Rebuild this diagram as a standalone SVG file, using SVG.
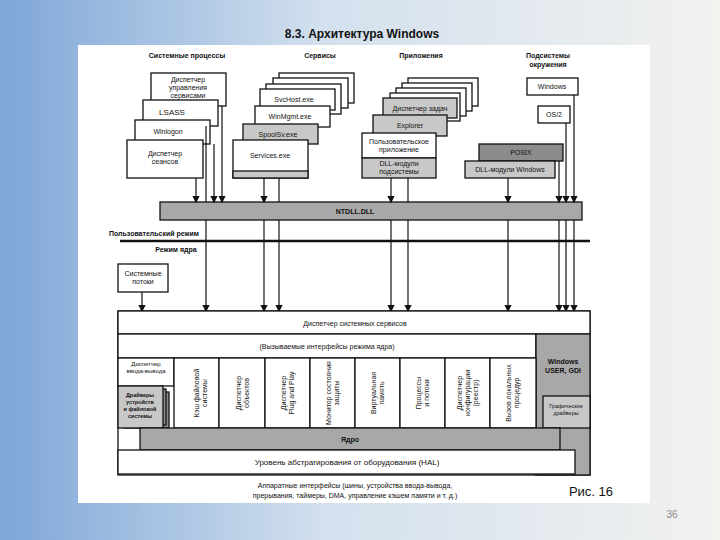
<svg xmlns="http://www.w3.org/2000/svg" width="720" height="540" viewBox="0 0 720 540">
<defs>
<linearGradient id="bg" x1="0" x2="1" y1="0" y2="0"><stop offset="0" stop-color="#7ea6d8"/><stop offset="0.45" stop-color="#d3e0ee"/><stop offset="1" stop-color="#f2f2ef"/></linearGradient>
<marker id="ar" markerWidth="6" markerHeight="6" refX="5" refY="3" orient="auto"><path d="M0,0L6,3L0,6z" fill="#111"/></marker>
<style>
.b{fill:#fff;stroke:#111;stroke-width:1.3}
.g{fill:#c8c8c8;stroke:#111;stroke-width:1.3}
.d{fill:#8c8c8c;stroke:#111;stroke-width:1.3}
.m{fill:#a8a8a8;stroke:#111;stroke-width:1.3}
text{font-family:"Liberation Sans",Arial,sans-serif;fill:#111;text-anchor:middle;font-size:7px}
.h{font-weight:bold;font-size:7px}
.c line{stroke:#111;stroke-width:1.2}
.c .a{marker-end:url(#ar)}
</style>
</defs>
<rect width="720" height="540" fill="url(#bg)"/>
<rect x="78" y="45" width="572" height="458" fill="#fff"/>
<text x="362" y="38" style="font-size:12px;font-weight:bold">8.3. Архитектура Windows</text>
<text class="h" x="187" y="58">Системные процессы</text>
<text class="h" x="320" y="58">Сервисы</text>
<text class="h" x="421" y="58">Приложения</text>
<text class="h" x="548" y="58">Подсистемы</text>
<text class="h" x="548" y="67">окружения</text>

<g id="sysproc">
<rect class="b" x="151" y="73" width="75" height="33"/>
<text x="188" y="82">Диспетчер</text><text x="188" y="90">управления</text><text x="188" y="98">сервисами</text>
<rect class="b" x="143" y="100" width="75" height="26"/><text x="172" y="115" style="font-size:8px">LSASS</text>
<rect class="b" x="135" y="120" width="75" height="24"/><text x="168" y="134">Winlogon</text>
<rect class="b" x="127" y="140" width="76" height="38"/><text x="165" y="156">Диспетчер</text><text x="165" y="164">сеансов</text>
</g>
<g id="services">
<rect class="b" x="279" y="73" width="75" height="30"/>
<rect class="b" x="273" y="78" width="75" height="30"/>
<rect class="b" x="266" y="84" width="75" height="30"/>
<rect class="b" x="260" y="89" width="75" height="21"/><text x="294" y="102">SvcHost.exe</text>
<rect class="b" x="255" y="106" width="75" height="21"/><text x="290" y="119">WinMgmt.exe</text>
<rect class="g" x="243" y="124" width="75" height="20"/><text x="278" y="137">SpoolSv.exe</text>
<rect class="b" x="233" y="140" width="75" height="38"/><rect class="g" x="233" y="171" width="75" height="7"/><text x="270" y="158">Services.exe</text>
</g>
<g id="apps">
<rect class="b" x="408" y="78" width="70" height="28"/>
<rect class="b" x="402" y="83" width="70" height="28"/>
<rect class="b" x="396" y="88" width="70" height="28"/>
<rect class="b" x="390" y="93" width="70" height="28"/>
<rect class="g" x="383" y="98" width="74" height="20"/><text x="420" y="111">Диспетчер задач</text>
<rect class="g" x="373" y="115" width="74" height="21"/><text x="410" y="128">Explorer</text>
<rect class="b" x="362" y="133" width="74" height="25"/><text x="399" y="144">Пользовательское</text><text x="399" y="152">приложение</text>
<rect class="g" x="362" y="158" width="74" height="20"/><text x="399" y="166">DLL-модули</text><text x="399" y="174">подсистемы</text>
</g>
<g id="env">
<rect class="b" x="527" y="78" width="51" height="17"/><text x="552" y="89">Windows</text>
<rect class="b" x="538" y="106" width="32" height="17"/><text x="554" y="117">OS/2</text>
<rect class="d" x="479" y="144" width="84" height="17"/><text x="521" y="155">POSIX</text>
<rect class="g" x="465" y="161" width="90" height="17"/><text x="510" y="172">DLL-модули Windows</text>
</g>
<g id="ntdll"><rect class="m" x="160" y="202" width="422" height="18"/><text class="h" x="355" y="214">NTDLL.DLL</text></g>
<g id="modes">
<text class="h" x="154" y="236">Пользовательский режим</text>
<line x1="120" y1="241" x2="590" y2="241" stroke="#111" stroke-width="2.5"/>
<text class="h" x="176" y="252">Режим ядра</text>
</g>
<g id="threads"><rect class="b" x="118" y="264" width="50" height="28"/><text x="143" y="276">Системные</text><text x="143" y="284">потоки</text></g>

<g class="c" id="connectors">
<line class="a" x1="196" y1="178" x2="196" y2="202"/>
<line class="a" x1="214" y1="144" x2="214" y2="202"/>
<line class="a" x1="222" y1="106" x2="222" y2="202"/>
<line x1="206" y1="126" x2="206" y2="202"/>
<line class="a" x1="264" y1="178" x2="264" y2="202"/>
<line x1="279" y1="178" x2="279" y2="202"/>
<line class="a" x1="391" y1="178" x2="391" y2="202"/>
<line x1="408" y1="178" x2="408" y2="202"/>
<line class="a" x1="508" y1="178" x2="508" y2="202"/>
<line class="a" x1="559" y1="161" x2="559" y2="202"/>
<line class="a" x1="566" y1="123" x2="566" y2="202"/>
<line class="a" x1="574" y1="95" x2="574" y2="202"/>
<line class="a" x1="142" y1="292" x2="142" y2="311"/>
<line class="a" x1="206" y1="220" x2="206" y2="311"/>
<line class="a" x1="264" y1="220" x2="264" y2="311"/>
<line class="a" x1="279" y1="220" x2="279" y2="311"/>
<line class="a" x1="391" y1="220" x2="391" y2="311"/>
<line class="a" x1="408" y1="220" x2="408" y2="311"/>
<line class="a" x1="508" y1="220" x2="508" y2="311"/>
<line class="a" x1="559" y1="220" x2="559" y2="311"/>
<line class="a" x1="566" y1="220" x2="566" y2="311"/>
<line class="a" x1="574" y1="220" x2="574" y2="311"/>
</g>

<g id="kernel">
<rect class="b" x="118" y="311" width="472" height="164"/>
<rect class="b" x="118" y="311" width="472" height="23"/><text x="355" y="326">Диспетчер системных сервисов</text>
<rect class="b" x="118" y="334" width="418" height="24"/><text x="327" y="349">(Вызываемые интерфейсы режима ядра)</text>
<rect class="m" x="536" y="334" width="54" height="141"/><text class="h" x="563" y="364">Windows</text><text class="h" x="563" y="373">USER, GDI</text>
<rect class="g" x="543" y="396" width="47" height="32"/><text x="566" y="408" style="font-size:5.5px">Графические</text><text x="566" y="415" style="font-size:5.5px">драйверы</text>
<rect class="b" x="118" y="358" width="56" height="28"/><text x="146" y="366" style="font-size:6px">Диспетчер</text><text x="146" y="373" style="font-size:6px">ввода-вывода</text>
<rect class="d" x="124" y="392" width="45" height="36"/><rect class="d" x="121" y="389" width="45" height="36"/>
<rect class="g" x="118" y="386" width="45" height="42"/><text x="140" y="397" style="font-size:5.5px;font-weight:bold">Драйверы</text><text x="140" y="404" style="font-size:5.5px;font-weight:bold">устройств</text><text x="140" y="411" style="font-size:5.5px;font-weight:bold">и файловой</text><text x="140" y="418" style="font-size:5.5px;font-weight:bold">системы</text>
<rect class="b" x="174" y="358" width="45" height="70"/><text transform="translate(199,393) rotate(-90)">Кэш файловой</text><text transform="translate(207,393) rotate(-90)">системы</text>
<rect class="b" x="219" y="358" width="46" height="70"/><text transform="translate(241,393) rotate(-90)">Диспетчер</text><text transform="translate(249,393) rotate(-90)">объектов</text>
<rect class="b" x="265" y="358" width="45" height="70"/><text transform="translate(286,393) rotate(-90)">Диспетчер</text><text transform="translate(294,393) rotate(-90)">Plug and Play</text>
<rect class="b" x="310" y="358" width="45" height="70"/><text transform="translate(331,393) rotate(-90)">Монитор состояния</text><text transform="translate(339,393) rotate(-90)">защиты</text>
<rect class="b" x="355" y="358" width="45" height="70"/><text transform="translate(376,393) rotate(-90)">Виртуальная</text><text transform="translate(384,393) rotate(-90)">память</text>
<rect class="b" x="400" y="358" width="45" height="70"/><text transform="translate(421,393) rotate(-90)">Процессы</text><text transform="translate(429,393) rotate(-90)">и потоки</text>
<rect class="b" x="445" y="358" width="45" height="70"/><text transform="translate(462,393) rotate(-90)">Диспетчер</text><text transform="translate(470,393) rotate(-90)">конфигурации</text><text transform="translate(478,393) rotate(-90)">(реестр)</text>
<rect class="b" x="490" y="358" width="46" height="70"/><text transform="translate(511,393) rotate(-90)">Вызов локальных</text><text transform="translate(519,393) rotate(-90)">процедур</text>
<rect class="m" x="140" y="428" width="420" height="22"/><text class="h" x="350" y="442">Ядро</text>
<rect class="b" x="118" y="450" width="457" height="24"/><text x="347" y="465" style="font-size:8px">Уровень абстрагирования от оборудования (HAL)</text>
</g>
<text x="355" y="488">Аппаратные интерфейсы (шины, устройства ввода-вывода,</text>
<text x="355" y="498">прерывания, таймеры, DMA, управление кэшем памяти и т. д.)</text>
<text x="591" y="496" style="font-size:13px">Рис. 16</text>
<text x="672" y="518" style="font-size:10px;fill:#888">36</text>
</svg>
